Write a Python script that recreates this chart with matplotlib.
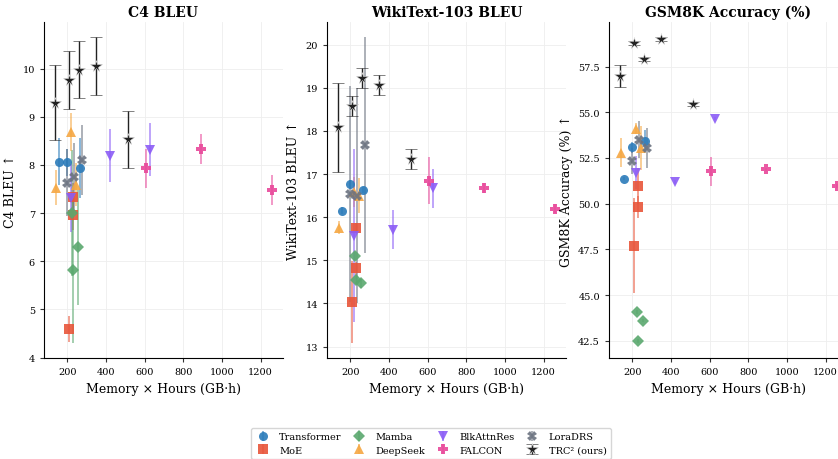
import numpy as np
import matplotlib.pyplot as plt

plt.rcParams['font.family'] = ['DejaVu Serif']

models = ["Transformer", "MoE", "Mamba", "DeepSeek", "BlkAttnRes", "FALCON", "LoraDRS", "TRC² (ours)"]
colors = ["#2b7bba", "#e8553a", "#5aa86e", "#f5a742", "#8b5cf6", "#e8489a", "#6b7280", "#222222"]
markers = ["o", "s", "D", "^", "v", "P", "X", "*"]

# memory x hours (GB·h) per run
mem = {
    "Transformer": [157, 200, 266],
    "MoE": [210, 227, 230],
    "Mamba": [224, 228, 255],
    "DeepSeek": [140, 217, 243],
    "BlkAttnRes": [217, 418, 630],
    "FALCON": [605, 893, 1260],
    "LoraDRS": [196, 235, 278],
    "TRC² (ours)": [135, 210, 258, 350, 515],
}

# C4 BLEU (mean, std)
c4 = {
    "Transformer": ([8.07, 8.06, 7.94], [0.48, 0.28, 0.62]),
    "MoE": ([4.60, 6.96, 7.33], [0.27, 0.3, 0.3]),
    "Mamba": ([7.00, 5.81, 6.29], [1.3, 1.5, 1.2]),
    "DeepSeek": ([7.53, 8.68, 7.59], [0.36, 0.4, 0.45]),
    "BlkAttnRes": ([7.31, 8.19, 8.32], [0.7, 0.55, 0.55]),
    "FALCON": ([7.93, 8.34, 7.48], [0.4, 0.31, 0.31]),
    "LoraDRS": ([7.63, 7.75, 8.10], [0.7, 0.7, 0.72]),
    "TRC² (ours)": ([9.29, 9.77, 9.98, 10.05, 8.53], [0.78, 0.6, 0.6, 0.6, 0.6]),
}

# WikiText-103 BLEU (mean, std)
wiki = {
    "Transformer": ([16.15, 16.76, 16.63], [0.08, 0.1, 0.08]),
    "MoE": ([14.04, 14.82, 15.75], [0.95, 0.15, 0.12]),
    "Mamba": ([15.10, 14.55, 14.47], [0.1, 0.1, 0.1]),
    "DeepSeek": ([15.75, 16.58, 16.50], [0.15, 0.35, 0.4]),
    "BlkAttnRes": ([15.57, 15.71, 16.67], [2.0, 0.45, 0.45]),
    "FALCON": ([16.85, 16.67, 16.20], [0.55, 0.12, 0.1]),
    "LoraDRS": ([16.54, 16.50, 17.67], [2.5, 2.5, 2.5]),
    "TRC² (ours)": ([18.08, 18.57, 19.23, 19.07, 17.35], [1.04, 0.23, 0.23, 0.23, 0.24]),
}

# GSM8K accuracy (mean, std)
gsm = {
    "Transformer": ([51.37, 53.09, 53.43], [0.1, 0.3, 0.6]),
    "MoE": ([47.70, 49.84, 50.97], [2.6, 0.6, 1.0]),
    "Mamba": ([44.07, 42.49, 43.60], [0.1, 0.1, 0.1]),
    "DeepSeek": ([52.78, 54.09, 53.02], [0.8, 0.3, 1.2]),
    "BlkAttnRes": ([51.69, 51.18, 54.65], [0.9, 0.1, 0.1]),
    "FALCON": ([51.77, 51.87, 50.97], [0.8, 0.1, 0.1]),
    "LoraDRS": ([52.33, 53.50, 53.05], [0.7, 1.0, 1.1]),
    "TRC² (ours)": ([56.99, 58.77, 57.90, 59.00, 55.45], [0.6, 0.1, 0.1, 0.1, 0.1]),
}

panels = [
    (c4, "C4 BLEU", "C4 BLEU ↑", [4, 5, 6, 7, 8, 9, 10], None),
    (wiki, "WikiText-103 BLEU", "WikiText-103 BLEU ↑", [13, 14, 15, 16, 17, 18, 19, 20], None),
    (gsm, "GSM8K Accuracy (%)", "GSM8K Accuracy (%) ↑", [42.5, 45.0, 47.5, 50.0, 52.5, 55.0, 57.5], "%.1f"),
]

fig = plt.figure(figsize=(8.38, 4.6), dpi=100)
lefts = [44 / 838, 327 / 838, 609 / 838]
w = 239 / 838
bottom = 1 - 359 / 460
h = (359 - 23) / 460

handles = []
for k, (data, title, ylab, yt, fmt) in enumerate(panels):
    ax = fig.add_axes([lefts[k], bottom, w, h])
    for m, c, mk in zip(models, colors, markers):
        y, e = data[m]
        x = mem[m]
        is_ours = m.startswith("TRC")
        ms = 8.5 if is_ours else 6.5
        cont = ax.errorbar(x, y, yerr=e, fmt=mk, color=c, ms=ms, mec=c if not is_ours else "#dddddd",
                           mew=0.4 if is_ours else 0, alpha=0.9 if not is_ours else 1.0,
                           ecolor=c, elinewidth=1.2 if not is_ours else 1.0,
                           capsize=4 if is_ours else 0, capthick=1.0, label=m, zorder=3 if is_ours else 2)
        if not is_ours:
            for bar in cont[2]:
                bar.set_alpha(0.65)
        if k == 0:
            handles.append(cont)
    ax.set_title(title, fontsize=10, fontweight="bold", pad=4)
    ax.set_ylabel(ylab, fontsize=9)
    ax.set_xlabel("Memory × Hours (GB·h)", fontsize=9)
    ax.set_xticks([200, 400, 600, 800, 1000, 1200])
    ax.set_yticks(yt)
    if fmt:
        ax.set_yticklabels([fmt % v for v in yt])
    ax.tick_params(labelsize=7, length=3, color="#333333")
    ax.grid(True, color="#eeeeee", lw=0.6)
    ax.set_axisbelow(True)
    ax.spines["top"].set_visible(False)
    ax.spines["right"].set_visible(False)

fig.legend(handles, models, loc="upper center", bbox_to_anchor=(0.514, 0.077), ncol=4,
           fontsize=7, frameon=True, edgecolor="#cccccc", handletextpad=0.9,
           columnspacing=1.0, handlelength=1.6, labelspacing=0.45)

plt.savefig("out.png", dpi=100)
